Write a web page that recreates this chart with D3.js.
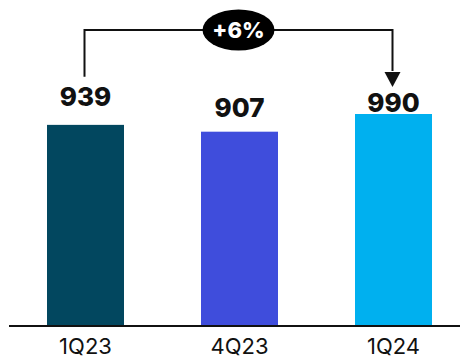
<!DOCTYPE html>
<html>
<head>
<meta charset="utf-8">
<script src="https://cdn.jsdelivr.net/npm/d3@7"></script>
<style>
  body { margin: 0; background: #fff; }
  text { font-family: Inter, "DejaVu Sans", sans-serif; }
</style>
</head>
<body>
<div id="chart-area"></div>
<script>
const categories = ["1Q23", "4Q23", "1Q24"]
const values = [939, 907, 990]
const colors = ["#02475f", "#3f4ddc", "#00b0ef"]
const growthLabel = "+6%"

const WIDTH = 460
const HEIGHT = 360
const BASE = 325

const svg = d3.select("#chart-area").append("svg")
  .attr("width", WIDTH)
  .attr("height", HEIGHT)

// SCALES
const x = d3.scaleBand()
  .domain(categories)
  .range([8.5, 470.5])
  .paddingInner(0.5)
  .paddingOuter(0.25)
const y = d3.scaleLinear()
  .domain([0, 990])
  .range([BASE, 114])

// BARS
svg.selectAll("rect.bar")
  .data(values)
  .enter().append("rect")
    .attr("class", "bar")
    .attr("x", (d, i) => x(categories[i]))
    .attr("y", d => y(d))
    .attr("width", x.bandwidth())
    .attr("height", d => y(0) - y(d))
    .attr("fill", (d, i) => colors[i])

// value labels (sit at uneven heights in the original)
const labelGap = [19, 15, 2]
svg.selectAll("text.value")
  .data(values)
  .enter().append("text")
    .attr("class", "value")
    .attr("x", (d, i) => x(categories[i]) + x.bandwidth() / 2)
    .attr("y", (d, i) => y(d) - labelGap[i])
    .attr("text-anchor", "middle")
    .attr("font-size", "26px")
    .attr("font-weight", 800)
    .attr("fill", "#111")
    .text(d => d)

// X AXIS
const xAxisCall = d3.axisBottom(x).tickSize(0).tickPadding(13)
const xAxis = svg.append("g")
  .attr("transform", `translate(0, ${BASE})`)
  .call(xAxisCall)
xAxis.select(".domain").remove()
xAxis.selectAll("text")
  .attr("font-size", "22px")
  .attr("font-family", "Inter, sans-serif")
  .attr("fill", "#111")
svg.append("line")
  .attr("x1", 9).attr("x2", WIDTH)
  .attr("y1", BASE + 1).attr("y2", BASE + 1)
  .attr("stroke", "#111")
  .attr("stroke-width", 2)

// GROWTH BRACKET
const bx1 = x(categories[0]) + x.bandwidth() / 2 - 1
const bx2 = x(categories[2]) + x.bandwidth() / 2 - 1
const bracketY = 30
svg.append("path")
  .attr("d", `M${bx1},${y(values[0]) - 48} V${bracketY} H${bx2} V${y(values[2]) - 43}`)
  .attr("fill", "none")
  .attr("stroke", "#111")
  .attr("stroke-width", 2)
const tipY = y(values[2]) - 27
svg.append("path")
  .attr("d", `M${bx2 - 8},${tipY - 15} L${bx2 + 8},${tipY - 15} L${bx2},${tipY} Z`)
  .attr("fill", "#111")

const cx = (bx1 + bx2) / 2
svg.append("ellipse")
  .attr("cx", cx).attr("cy", bracketY)
  .attr("rx", 36).attr("ry", 20.5)
  .attr("fill", "#000")
svg.append("text")
  .attr("x", cx).attr("y", bracketY + 8)
  .attr("text-anchor", "middle")
  .attr("font-size", "22px")
  .attr("font-weight", 800)
  .attr("fill", "#fff")
  .text(growthLabel)
</script>
</body>
</html>
